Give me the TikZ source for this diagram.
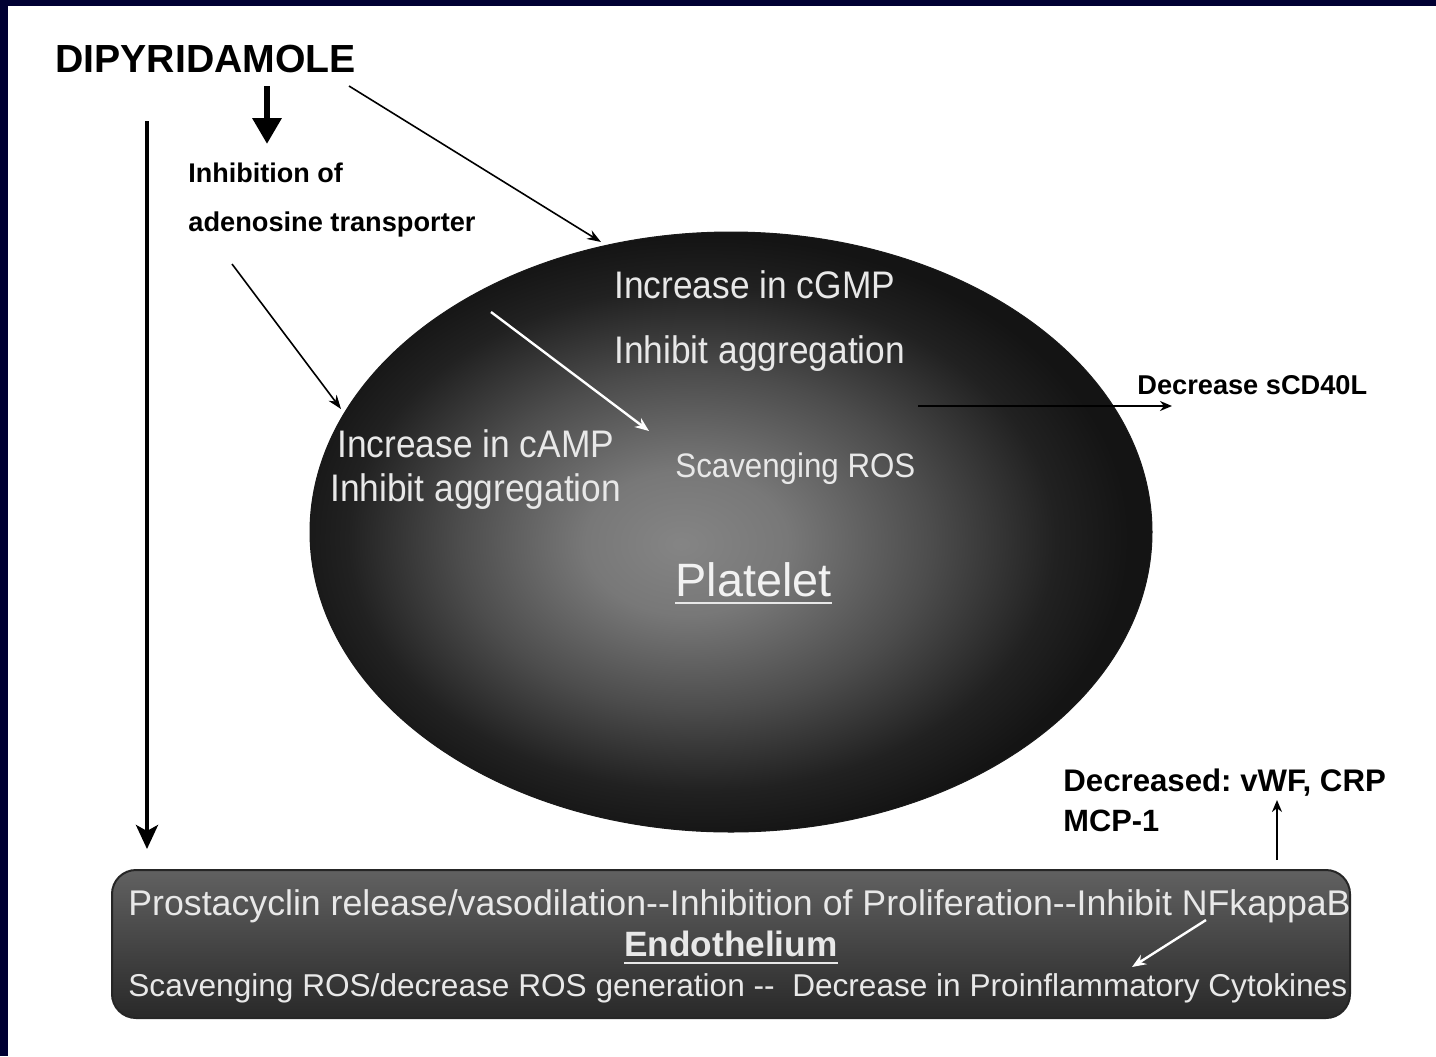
\documentclass[tikz,border=0pt]{standalone}
\usepackage{fontspec}
\setmainfont[Ligatures=NoCommon]{Liberation Sans}
\newfontfamily\narrowsans[FakeStretch=0.92]{Liberation Sans}
\usetikzlibrary{arrows.meta,shapes.geometric}
\definecolor{navy}{RGB}{0,0,51}
\definecolor{lighttext}{RGB}{232,232,232}
\pgfdeclareradialshading{plateletshade}{\pgfpoint{-3bp}{-1bp}}{%
  rgb(0bp)=(0.52,0.52,0.52);
  rgb(6bp)=(0.47,0.47,0.47);
  rgb(14bp)=(0.30,0.30,0.30);
  rgb(21bp)=(0.13,0.13,0.13);
  rgb(25bp)=(0.08,0.08,0.08);
  rgb(50bp)=(0.08,0.08,0.08)}
\tikzset{
  lbl/.style={inner sep=0pt, anchor=base west},
  darklbl/.style={lbl, text=black, font=\bfseries\fontsize{#1}{#1}\selectfont},
  whitelbl/.style={lbl, text=lighttext, font=\narrowsans\fontsize{#1}{#1}\selectfont},
  endolbl/.style={lbl, text=lighttext, font=\fontsize{#1}{#1}\selectfont},
  thinarrow/.style={line width=0.8pt, -{Stealth[length=7pt,width=5pt]}},
  thinwhite/.style={line width=1.2pt, white, -{Stealth[length=7pt,width=5.5pt]}},
  medarrow/.style={line width=1.1pt, -{Stealth[length=6pt,width=5pt]}},
  longarrow/.style={line width=2pt, -{Stealth[length=12pt,width=11pt,inset=3pt]}},
  fatarrow/.style={line width=3.2pt, -{Triangle[length=13pt,width=14pt]}},
  underl/.style={line width=1.3pt, lighttext}
}
\frenchspacing
\begin{document}
\begin{tikzpicture}[x=0.5pt,y=-0.5pt]
\useasboundingbox (0,0) rectangle (1436,1056);
\fill[white] (0,0) rectangle (1436,1056);
\fill[navy] (0,0) rectangle (1436,6);
\fill[navy] (0,0) rectangle (8,1056);

% platelet ellipse
\node (platelet) [ellipse, shading=plateletshade, draw=black!90, line width=0.5pt,
  minimum width=421pt, minimum height=300pt, inner sep=0pt] at (731,532) {};

% endothelium box
\node (endo) [draw=black!85, line width=1pt, rounded corners=12pt,
  top color=black!62, middle color=black!45, bottom color=black!84,
  minimum width=619pt, minimum height=74pt, inner sep=0pt] at (731,944) {};

% texts
\node (dipy) [darklbl=19.6pt] at (55,72) {DIPYRIDAMOLE};
\node (inh) [darklbl=13.5pt] at (188,182) {Inhibition of};
\node (aden) [darklbl=13.6pt] at (188,231) {adenosine transporter};
\node (cgmp) [whitelbl=19.2pt] at (614,298) {Increase in cGMP};
\node (agg1) [whitelbl=19.2pt] at (614,363) {Inhibit aggregation};
\node (camp) [whitelbl=19.2pt] at (337,457) {Increase in cAMP};
\node (agg2) [whitelbl=19.2pt] at (330,501) {Inhibit aggregation};
\node (ros) [whitelbl=17pt] at (675,477) {Scavenging ROS};
\node (plat) [endolbl=23.4pt, text=white!95!black] at (675,596) {Platelet};
\node (cd40) [darklbl=13.6pt] at (1137,394) {Decrease sCD40L};
\node (vwf) [darklbl=15.6pt] at (1063,791) {Decreased: vWF, CRP};
\node (mcp) [darklbl=15.4pt] at (1063,831) {MCP-1};
\node (endo1) [endolbl=17.85pt] at (128,915) {Prostacyclin release/vasodilation-{}-Inhibition of Proliferation-{}-Inhibit NFkappaB};
\node (endot) [endolbl=17.6pt, font=\bfseries\fontsize{17.6pt}{17.6pt}\selectfont] at (624,956) {Endothelium};
\node (endo3) [endolbl=15.8pt] at (128,996) {Scavenging ROS/decrease ROS generation -{}-\ \ Decrease in Proinflammatory Cytokines};

% underlines
\draw[underl] ([yshift=-3.5pt]plat.base west) -- ([yshift=-3.5pt]plat.base east);
\draw[underl] ([yshift=-3.5pt]endot.base west) -- ([yshift=-3.5pt]endot.base east);

% connector end points
\coordinate (fatS) at (267,86);
\coordinate (fatE) at (267,144);
\coordinate (longS) at (147,121);
\coordinate (longE) at (147,849);
\coordinate (dS) at (349,86);
\coordinate (dE) at (601,242);
\coordinate (aS) at (232,264);
\coordinate (aE) at (341,409);
\coordinate (wS) at (491,312);
\coordinate (wE) at (649,431);
\coordinate (sS) at (918,406);
\coordinate (sE) at (1172,406);
\coordinate (uS) at (1277,860);
\coordinate (uE) at (1277,800);
\coordinate (nS) at (1206,920);
\coordinate (nE) at (1132,967);

% connectors
\draw[fatarrow] (fatS) -- (fatE);
\draw[longarrow] (longS) -- (longE);
\draw[thinarrow] (dS) -- (dE);
\draw[thinarrow] (aS) -- (aE);
\draw[thinwhite] (wS) -- (wE);
\draw[medarrow] (sS) -- (sE);
\draw[medarrow] (uS) -- (uE);
\draw[thinwhite] (nS) -- (nE);
\end{tikzpicture}
\end{document}
